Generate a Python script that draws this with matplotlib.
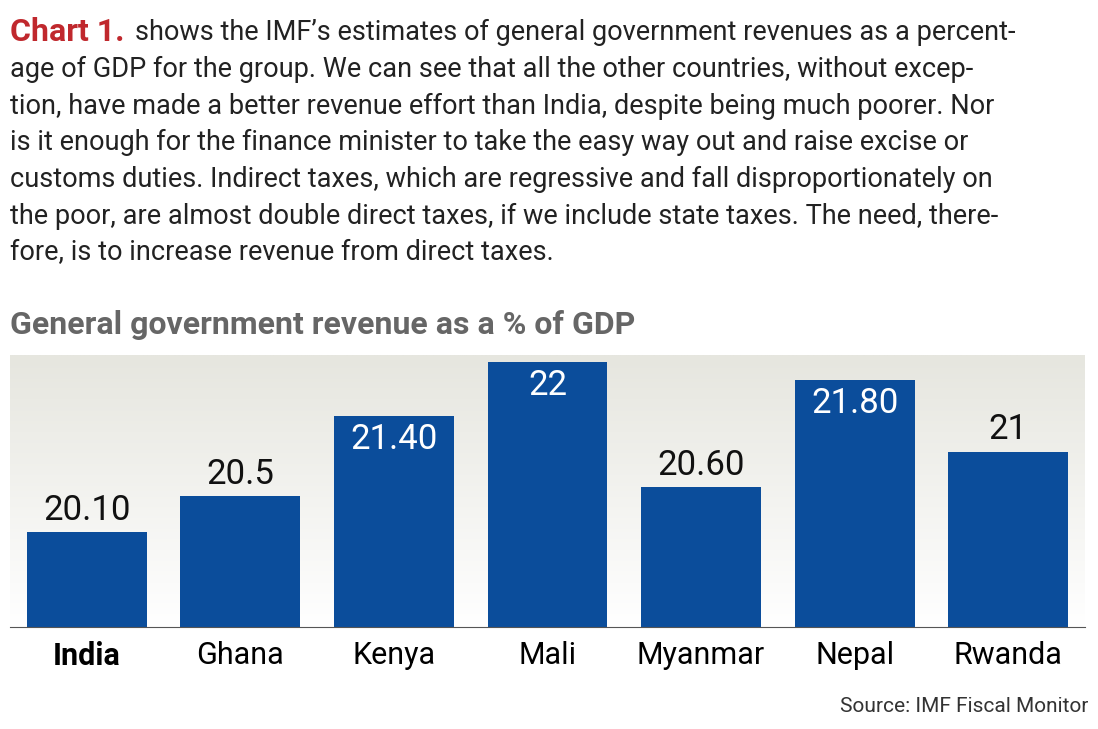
import matplotlib
matplotlib.use("Agg")
import matplotlib.pyplot as plt
import numpy as np

countries = ["India", "Ghana", "Kenya", "Mali", "Myanmar", "Nepal", "Rwanda"]
values = [20.10, 20.5, 21.40, 22, 20.60, 21.80, 21]
labels = ["20.10", "20.5", "21.40", "22", "20.60", "21.80", "21"]
inside = [False, False, True, True, False, True, False]

FAM = ["Liberation Sans Narrow", "Roboto", "DejaVu Sans"]
plt.rcParams['font.family'] = FAM

W, H = 1098, 729
fig = plt.figure(figsize=(W/100, H/100), dpi=100)
fig.patch.set_facecolor("white")

lines = [
    "shows the IMF\u2019s estimates of general government revenues as a percent-",
    "age of GDP for the group. We can see that all the other countries, without excep-",
    "tion, have made a better revenue effort than India, despite being much poorer. Nor",
    "is it enough for the finance minister to take the easy way out and raise excise or",
    "customs duties. Indirect taxes, which are regressive and fall disproportionately on",
    "the poor, are almost double direct taxes, if we include state taxes. The need, there-",
    "fore, is to increase revenue from direct taxes.",
]
ys = [32, 69, 106, 142, 179, 216, 253]
fig.text(10/W, 1-ys[0]/H, "Chart 1.", color="#c0282d", fontsize=23, fontweight="bold", va="center")
fig.text(135/W, 1-ys[0]/H, lines[0], fontsize=19.5, va="center", color="#222222")
for l, y in zip(lines[1:], ys[1:]):
    fig.text(10/W, 1-y/H, l, fontsize=19.5, va="center", color="#222222")
fig.text(10/W, 1-325/H, "General government revenue as a % of GDP", fontsize=23,
         fontweight="bold", color="#666666", va="center")
fig.text(1088/W, 1-706/H, "Source: IMF Fiscal Monitor", fontsize=15, ha="right",
         va="center", color="#333333")

ax = fig.add_axes([10/W, 1-627/H, 1075/W, (627-355)/H])
x = np.arange(len(countries))
ymin, ymax = 19.04, 22.08
grad = np.linspace(0, 1, 100).reshape(-1, 1)
cm = matplotlib.colors.LinearSegmentedColormap.from_list("g", ["#ffffff", "#e6e6df"])
for xi in x:
    ax.imshow(grad, extent=[xi-0.5, xi+0.5, ymin, ymax], origin="lower",
              cmap=cm, aspect="auto", zorder=0)
ax.bar(x, [v - ymin for v in values], bottom=ymin, width=0.78, color="#0b4d9b", zorder=2)
for xi, v, lab, ins in zip(x, values, labels, inside):
    if ins:
        ax.text(xi, v - 0.08, lab, ha="center", va="top", color="white", fontsize=25, zorder=3)
    else:
        ax.text(xi, v + 0.06, lab, ha="center", va="bottom", color="#111111", fontsize=25, zorder=3)
ax.set_xlim(-0.5, len(countries)-0.5)
ax.set_ylim(ymin, ymax)
ax.set_yticks([])
ax.set_xticks(x)
ax.set_xticklabels(countries, fontsize=22)
ax.get_xticklabels()[0].set_fontweight("bold")
ax.tick_params(axis="x", length=0, pad=10)
for s in ["top", "left", "right"]:
    ax.spines[s].set_visible(False)
ax.spines["bottom"].set_color("#555555")
fig.savefig("out.png", dpi=100)
